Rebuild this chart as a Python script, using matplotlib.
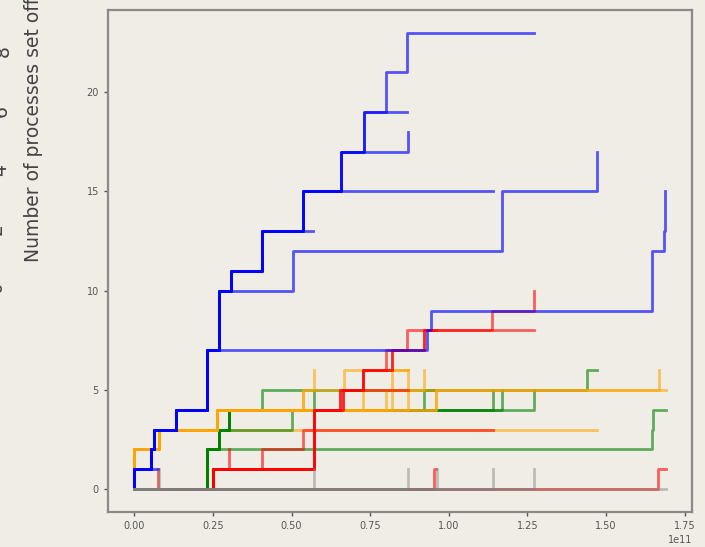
import matplotlib
matplotlib.use('Agg')
import matplotlib.pyplot as plt

# Tempos em unidades de 1e11, contagem acumulada de processos por execução
azul = [
    ([0, 0, 0.054, 0.063, 0.133, 0.23, 0.268, 0.306, 0.407, 0.537, 0.657, 0.73, 0.80, 0.868, 1.27],
     [0, 1, 2, 3, 4, 7, 10, 11, 13, 15, 17, 19, 21, 23, 23]),
    ([0, 0, 0.054, 0.063, 0.133, 0.23, 0.268, 0.306, 0.407, 0.537, 0.657, 0.73, 0.868],
     [0, 1, 2, 3, 4, 7, 10, 11, 13, 15, 17, 19, 19]),
    ([0, 0, 0.054, 0.063, 0.133, 0.23, 0.268, 0.306, 0.407, 0.537, 0.657, 0.87],
     [0, 1, 2, 3, 4, 7, 10, 11, 13, 15, 17, 18]),
    ([0, 0, 0.054, 0.063, 0.133, 0.23, 0.268, 0.306, 0.407, 0.568],
     [0, 1, 2, 3, 4, 7, 10, 11, 13, 13]),
    ([0, 0, 0.054, 0.063, 0.133, 0.23, 0.268, 0.306, 0.407, 0.537, 1.14],
     [0, 1, 2, 3, 4, 7, 10, 11, 13, 15, 15]),
    ([0, 0, 0.054, 0.063, 0.133, 0.23, 0.268, 0.505, 1.168, 1.47],
     [0, 1, 2, 3, 4, 7, 10, 12, 15, 17]),
    ([0, 0, 0.054, 0.063, 0.133, 0.23, 0.932, 0.944, 1.645, 1.683, 1.688],
     [0, 1, 2, 3, 4, 7, 8, 9, 12, 13, 15]),
    ([0, 0, 0.075], [0, 1, 1]),
]

vermelho = [
    ([0, 0.075], [0, 1]),
    ([0, 0.25, 0.57], [0, 1, 1]),
    ([0, 0.25, 0.30], [0, 1, 2]),
    ([0, 0.25, 0.405, 0.535, 1.14], [0, 1, 2, 3, 3]),
    ([0, 0.25, 0.57, 0.655, 0.87], [0, 1, 4, 5, 5]),
    ([0, 0.25, 0.57, 0.655, 0.726, 0.80, 0.868, 0.96], [0, 1, 4, 5, 6, 7, 8, 8]),
    ([0, 0.25, 0.57, 0.665, 0.726, 0.82, 0.92, 1.137, 1.27], [0, 1, 4, 5, 6, 7, 8, 9, 10]),
    ([0, 0.25, 0.57, 0.665, 0.726, 0.82, 0.92, 1.27], [0, 1, 4, 5, 6, 7, 8, 8]),
    ([0, 0.953, 0.96], [0, 1, 1]),
    ([0, 1.665, 1.69], [0, 1, 1]),
]

laranja = [
    ([0, 0, 0.079, 0.262, 0.535, 0.57], [0, 2, 3, 4, 5, 6]),
    ([0, 0, 0.079, 0.262, 0.535, 0.666, 0.87], [0, 2, 3, 4, 5, 6, 6]),
    ([0, 0, 0.079, 0.262, 0.818, 0.87], [0, 2, 3, 4, 6, 6]),
    ([0, 0, 0.079, 0.262, 0.87], [0, 2, 3, 4, 6]),
    ([0, 0, 0.079, 0.262, 0.726, 0.92], [0, 2, 3, 4, 5, 6]),
    ([0, 0, 0.079, 0.262, 0.80, 0.96], [0, 2, 3, 4, 5, 5]),
    ([0, 0, 0.079, 0.262, 0.96, 1.67], [0, 2, 3, 4, 5, 6]),
    ([0, 0, 0.079, 0.262, 0.96, 1.69], [0, 2, 3, 4, 5, 5]),
]
# esta execução fica por baixo das verdes
laranja_fundo = [
    ([0, 0, 0.079, 1.47], [0, 2, 3, 3]),
]

verde = [
    ([0, 0.23, 1.645, 1.648, 1.69], [0, 2, 3, 4, 4]),
    ([0, 0.23, 0.268, 0.502, 0.57, 1.44, 1.47], [0, 2, 3, 4, 5, 6, 6]),
    ([0, 0.23, 0.268, 0.30, 0.407, 0.57], [0, 2, 3, 4, 5, 5]),
    ([0, 0.23, 0.268, 0.30, 1.14], [0, 2, 3, 4, 5]),
    ([0, 0.23, 0.268, 0.30, 1.168], [0, 2, 3, 4, 5]),
    ([0, 0.23, 0.268, 0.30, 1.27], [0, 2, 3, 4, 5]),
    ([0, 0.23, 0.268, 0.30, 0.92, 0.955], [0, 2, 3, 4, 5, 5]),
]

cinza = [
    ([0, 0.079], [0, 1]),
    ([0, 0.57], [0, 1]),
    ([0, 0.87], [0, 1]),
    ([0, 0.962], [0, 1]),
    ([0, 1.14], [0, 1]),
    ([0, 1.27], [0, 1]),
    ([0, 1.69], [0, 0]),
]

fundo = '#f0ede6'
fig = plt.figure(figsize=(7.05, 5.47), dpi=100, facecolor=fundo)
ax = fig.add_axes([0.153, 0.064, 0.829, 0.918], facecolor=fundo)

for runs, cor, a in [(laranja_fundo, 'orange', 0.6), (verde, 'green', 0.6), (laranja, 'orange', 0.6),
                     (vermelho, 'red', 0.6), (azul, 'blue', 0.65), (cinza, 'gray', 0.45)]:
    for xs, ys in runs:
        ax.step([v * 1e11 for v in xs], ys, where='post', color=cor, alpha=a, linewidth=2)

ax.set_yticks([0, 5, 10, 15, 20])
ax.set_xticks([v * 1e11 for v in [0, 0.25, 0.5, 0.75, 1.0, 1.25, 1.5, 1.75]])
ax.tick_params(labelsize=7, colors='#555555', length=3, width=1)
ax.xaxis.get_offset_text().set_fontsize(7)
ax.xaxis.get_offset_text().set_color('#555555')
for s in ax.spines.values():
    s.set_color('#8a8a8a')
    s.set_linewidth(1.6)

# rótulo e restos do gráfico vizinho (cortados no recorte original)
fig.text(34 / 705, 1 - 262 / 547, 'Number of processes set off', rotation=90,
         ha='center', va='bottom', fontsize=13.5, color='#444444')
for lbl, xpx, ypx in [('8', 3, 51), ('6', 1, 111), ('4', 1, 170), ('2', -4, 229), ('0', -4, 287)]:
    fig.text(xpx / 705, 1 - ypx / 547, lbl, rotation=90, ha='center', va='center',
             fontsize=13.5, color='#444444')

plt.savefig('out.png', dpi=100, facecolor=fundo)
